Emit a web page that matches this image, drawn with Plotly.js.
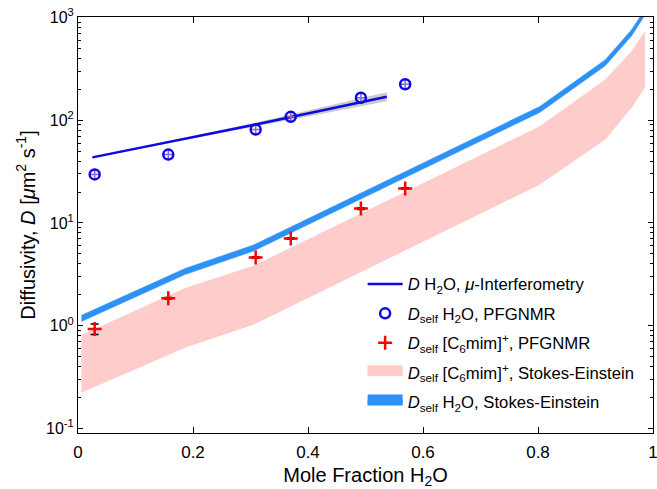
<!DOCTYPE html>
<html><head><meta charset="utf-8">
<script src="https://cdn.plot.ly/plotly-3.0.1.min.js"></script>
<style>html,body{margin:0;padding:0;background:#fff}</style>
</head><body><div id="chart" style="width:657px;height:489px"></div>
<script>
// Stokes-Einstein node positions (mole fraction H2O)
const seNodes = [0.006, 0.186, 0.305, 0.803, 0.917, 0.963, 0.986];
// [C6mim]+ Stokes-Einstein band edges
const ilUpper = [0.81, 2.32, 3.82, 87.4, 249, 471, 739];
const ilLower = [0.222, 0.61, 1.02, 23.6, 64.9, 132, 207];
// H2O Stokes-Einstein band edges
const waterUpper = [1.26, 3.60, 6.09, 136, 388, 763, 1209];
const waterLower = [1.10, 3.14, 5.32, 119, 339, 666, 1056];
// PFGNMR data
const nmrX = [0.029, 0.157, 0.309, 0.370, 0.492, 0.569];
const waterNmr = [29.7, 46.3, 81.1, 108, 165.5, 224];
const ilNmr = [0.93, 1.85, 4.61, 7.06, 13.8, 21.7];
const ilNmrErr = [0.11, 0.03, 0.08, 0.12, 0.25, 0.35];
// micro-interferometry fit and its confidence band
const interfX = [0.025, 0.309, 0.537];
const interfY = [43.5, 91, 169];
const interfLo = [43.3, 87, 153];
const interfHi = [43.7, 95, 187];
// axis ticks
const yTickVals = [0.1, 1, 10, 100, 1000];
const yTickText = ['10<sup>-1</sup>', '10<sup>0</sup>', '10<sup>1</sup>', '10<sup>2</sup>', '10<sup>3</sup>'];

const FONT = "Arial, 'Liberation Sans', sans-serif";
const pink = 'rgb(255,204,204)';
const sky = 'rgb(45,145,245)';

function poly(x, lo, hi) {
  return {x: x.concat(x.slice().reverse()), y: hi.concat(lo.slice().reverse())};
}
const ilPoly = poly(seNodes, ilLower, ilUpper);
const wPoly = poly(seNodes, waterLower, waterUpper);
const gPoly = poly(interfX, interfLo, interfHi);

const traces = [
  {x: ilPoly.x, y: ilPoly.y, mode: 'lines', fill: 'toself', fillcolor: pink, line: {width: 0, color: pink}, showlegend: false, hoverinfo: 'skip'},
  {x: wPoly.x, y: wPoly.y, mode: 'lines', fill: 'toself', fillcolor: sky, line: {width: 0.5, color: sky}, showlegend: false, hoverinfo: 'skip'},
  {x: gPoly.x, y: gPoly.y, mode: 'lines', fill: 'toself', fillcolor: 'rgba(190,190,190,0.8)', line: {width: 0, color: 'rgba(190,190,190,0.8)'}, showlegend: false, hoverinfo: 'skip'},
  {x: interfX, y: interfY, mode: 'lines', line: {color: 'rgb(10,10,230)', width: 2.5},
   name: '<i>D</i> H<sub>2</sub>O, <i>μ</i>-Interferometry', legendrank: 1, legendgroup: 'a'},
  {x: nmrX, y: waterNmr, mode: 'markers', marker: {symbol: 'cross-thin-open', size: 8, line: {color: 'black', width: 1.5}}, showlegend: false, hoverinfo: 'skip'},
  {x: nmrX, y: waterNmr, mode: 'markers', marker: {symbol: 'circle-open', size: 10, color: 'rgb(10,10,230)', line: {width: 2.5}},
   name: '<i>D</i><sub>self</sub> H<sub>2</sub>O, PFGNMR', legendrank: 2, legendgroup: 'b'},
  {x: nmrX, y: ilNmr, mode: 'markers', marker: {symbol: 'cross-thin-open', size: 10, color: 'red', line: {width: 2.5, color: 'red'}},
   error_y: {type: 'data', array: ilNmrErr, color: 'black', thickness: 1.5, width: 4},
   name: '<i>D</i><sub>self</sub> [C<sub>6</sub>mim]<sup>+</sup>, PFGNMR', legendrank: 3, legendgroup: 'c'},
  {x: [null], y: [null], mode: 'lines', fill: 'toself', fillcolor: pink, line: {width: 10, color: pink},
   name: '<i>D</i><sub>self</sub> [C<sub>6</sub>mim]<sup>+</sup>, Stokes-Einstein', legendrank: 4, legendgroup: 'd'},
  {x: [null], y: [null], mode: 'lines', fill: 'toself', fillcolor: sky, line: {width: 10, color: sky},
   name: '<i>D</i><sub>self</sub> H<sub>2</sub>O, Stokes-Einstein', legendrank: 5, legendgroup: 'e'}
];

const layout = {
  width: 657, height: 489,
  margin: {l: 78, r: 4, t: 17, b: 56},
  paper_bgcolor: 'white', plot_bgcolor: 'white',
  font: {family: FONT, size: 16, color: 'black'},
  showlegend: true,
  legend: {x: 0.495, y: 0.40, xanchor: 'left', yanchor: 'top', font: {size: 16.7, family: FONT},
           bgcolor: 'rgba(0,0,0,0)', itemwidth: 35, traceorder: 'grouped', tracegroupgap: 4.7},
  xaxis: {range: [0, 1], dtick: 0.2, tick0: 0, showgrid: false, zeroline: false,
          showline: true, linecolor: 'black', linewidth: 1, mirror: 'ticks',
          ticks: 'inside', ticklen: 6, tickcolor: 'black', ticklabeloverflow: 'allow',
          ticklabelstandoff: 4, tickfont: {size: 17},
          title: {text: 'Mole Fraction H<sub>2</sub>O', font: {size: 20}, standoff: 7}},
  yaxis: {type: 'log', range: [-1.045, 3.005], tickmode: 'array', tickvals: yTickVals, ticktext: yTickText,
          showgrid: false, zeroline: false, showline: true, linecolor: 'black', linewidth: 1, mirror: 'allticks',
          ticks: 'inside', ticklen: 5, tickcolor: 'black', tickfont: {size: 16},
          minor: {dtick: 'D1', ticks: 'inside', ticklen: 3, tickcolor: 'black', showgrid: false},
          title: {text: 'Diffusivity, <i>D</i> [<i>μ</i>m<sup>2</sup> s<sup>-1</sup>]', font: {size: 20}, standoff: 5}}
};

Plotly.newPlot('chart', traces, layout, {displayModeBar: false, responsive: false});
</script></body></html>
